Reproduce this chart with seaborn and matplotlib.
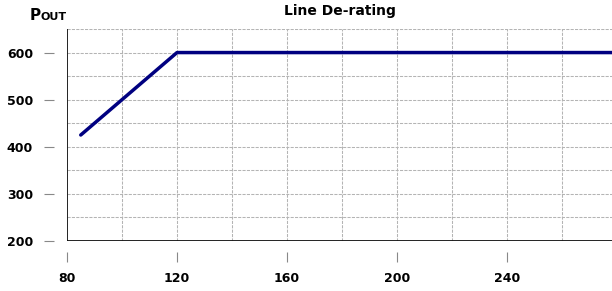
import matplotlib
matplotlib.use("Agg")
import matplotlib.pyplot as plt
import seaborn as sns
import pandas as pd
import numpy as np

# Data
vin = [85, 120, 280]
pout = [425, 600, 600]
x_ticks = [80, 120, 160, 200, 240]
y_ticks = [200, 300, 400, 500, 600]
title = "Line De-rating"

sns.set_style("white")
plt.rcParams['font.family'] = ['DejaVu Sans']

df = pd.DataFrame({"Vin": vin, "Pout": pout})

fig = plt.figure(figsize=(6.12, 2.91), dpi=100)
ax = fig.add_axes([67/612, 50/291, (612-67)/612, (241-29)/291])

sns.lineplot(data=df, x="Vin", y="Pout", ax=ax, color="#000080", linewidth=2.5, zorder=5)

ax.set_xlim(80, 278.2)
ax.set_ylim(200, 650)

# grid
for gx in np.arange(100, 280, 20):
    ax.axvline(gx, color="#b4b4b4", lw=0.75, ls=(0, (3, 1.2)), zorder=1)
for gy in np.arange(250, 651, 50):
    ax.axhline(gy, color="#b4b4b4", lw=0.75, ls=(0, (3, 1.2)), zorder=1)

# axis lines
ax.axvline(80, color="#111111", lw=1.3, zorder=4)
ax.axhline(200, color="#111111", lw=1.3, zorder=4)

for s in ax.spines.values():
    s.set_visible(False)
ax.spines['left'].set_position(('outward', 9.4))
ax.spines['bottom'].set_position(('outward', 7.9))

ax.set_xticks(x_ticks)
ax.set_yticks(y_ticks)
ax.tick_params(axis='both', direction='out', length=7.2, width=0.8, color="#888888",
               labelsize=9, left=True, bottom=True)
ax.tick_params(axis='y', pad=7.9)
ax.tick_params(axis='x', pad=7)
for lab in ax.get_xticklabels() + ax.get_yticklabels():
    lab.set_fontweight('bold')
    lab.set_color("#000000")

ax.set_xlabel("")
ax.set_ylabel("")

fig.text(340/612, 1 - 11/291, title, ha='center', va='center', fontsize=10,
         fontweight='bold', color="#000000")
fig.text(30/612, 1 - 16/291, "P", ha='left', va='center', fontsize=11,
         fontweight='bold', color="#000000")
fig.text(40.5/612, 1 - 16.5/291, "OUT", ha='left', va='center', fontsize=8,
         fontweight='bold', color="#000000")

fig.savefig("out.png", dpi=100)
